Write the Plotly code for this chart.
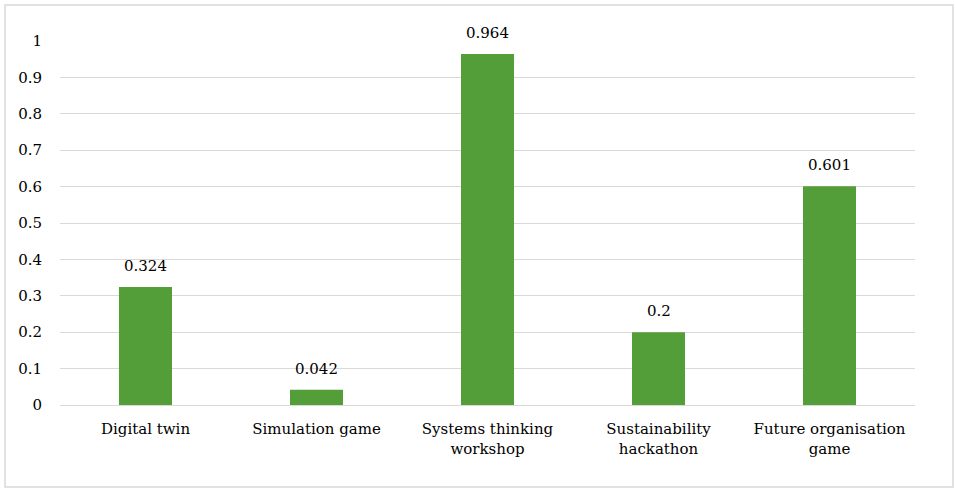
import plotly.graph_objects as go

# Scores per activity
categories = [
    "Digital twin",
    "Simulation game",
    "Systems thinking<br>workshop",
    "Sustainability<br>hackathon",
    "Future organisation<br>game",
]
values = [0.324, 0.042, 0.964, 0.2, 0.601]
tick_values = [0, 0.1, 0.2, 0.3, 0.4, 0.5, 0.6, 0.7, 0.8, 0.9, 1]
tick_labels = ["0", "0.1", "0.2", "0.3", "0.4", "0.5", "0.6", "0.7", "0.8", "0.9", "1"]

FONT = "DejaVu Serif"
FONT_SIZE = 15
BAR_COLOR = "#549E39"
GRID_COLOR = "#D9D9D9"

fig = go.Figure(
    go.Bar(
        x=categories,
        y=values,
        marker=dict(color=BAR_COLOR, line=dict(width=0)),
        hoverinfo="x+y",
    )
)

# Value labels above each bar
for cat, val in zip(categories, values):
    fig.add_annotation(
        x=cat,
        y=val,
        text=f"{val:g}",
        showarrow=False,
        yanchor="bottom",
        yshift=10,
        font=dict(family=FONT, size=FONT_SIZE, color="#000000"),
    )

# Plot area spans x 60..915 px and y 41..405 px on a 955x488 page
L, R, T, B = 60, 40, 41, 83
W, H = 955, 488
pw, ph = W - L - R, H - T - B

fig.update_layout(
    width=W,
    height=H,
    margin=dict(l=L, r=R, t=T, b=B, pad=0),
    paper_bgcolor="white",
    plot_bgcolor="white",
    bargap=0.69,
    showlegend=False,
    font=dict(family=FONT, size=FONT_SIZE, color="#000000"),
    xaxis=dict(
        showgrid=False,
        showline=True,
        linecolor=GRID_COLOR,
        linewidth=1,
        ticks="",
        tickfont=dict(family=FONT, size=FONT_SIZE, color="#000000"),
        ticklabelstandoff=10,
    ),
    yaxis=dict(
        range=[0, 1],
        tickvals=tick_values,
        ticktext=tick_labels,
        showgrid=True,
        gridcolor=GRID_COLOR,
        gridwidth=1,
        zeroline=False,
        showline=False,
        ticks="",
        tickfont=dict(family=FONT, size=FONT_SIZE, color="#000000"),
        ticklabelstandoff=17,
    ),
    shapes=[
        dict(
            type="rect",
            xref="paper",
            yref="paper",
            x0=(5 - L) / pw,
            x1=(953 - L) / pw,
            y0=(H - B - 487) / ph,
            y1=(H - B - 5) / ph,
            line=dict(color=GRID_COLOR, width=1.5),
            fillcolor="rgba(0,0,0,0)",
            layer="below",
        )
    ],
)

fig.write_html("out.html")
